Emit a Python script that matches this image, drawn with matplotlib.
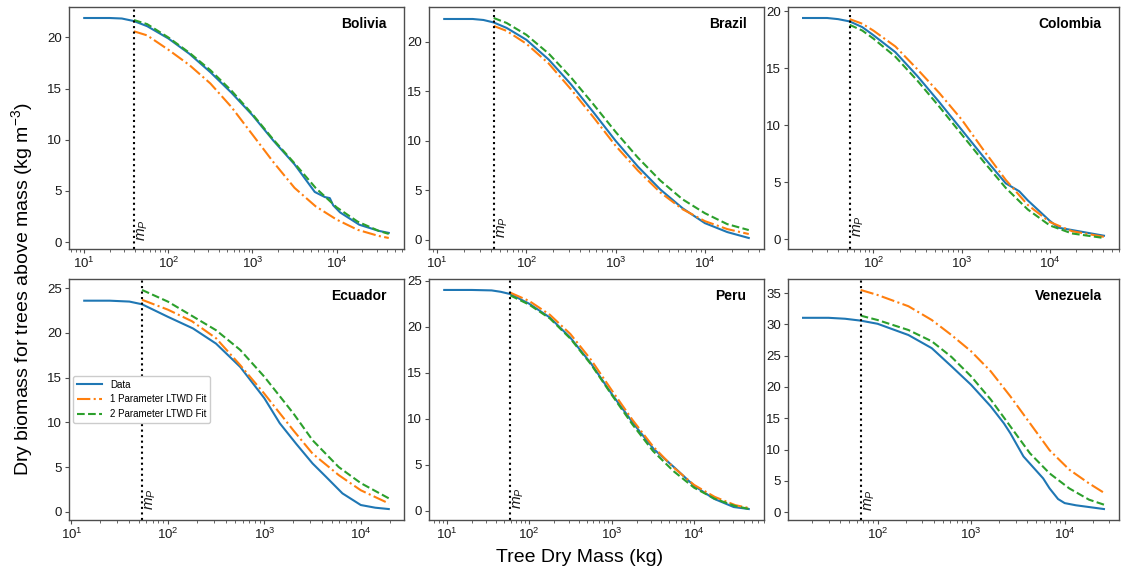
import matplotlib
matplotlib.use("Agg")
import matplotlib.pyplot as plt
from matplotlib.ticker import MultipleLocator

plt.rcParams['font.family'] = ['Liberation Sans', 'DejaVu Sans']
plt.rcParams['mathtext.fontset'] = 'custom'
plt.rcParams['mathtext.rm'] = 'Liberation Sans'
plt.rcParams['mathtext.it'] = 'Liberation Sans:italic'
plt.rcParams['mathtext.bf'] = 'Liberation Sans:bold'

# ---------------- data ----------------
countries = ["Bolivia", "Brazil", "Colombia", "Ecuador", "Peru", "Venezuela"]
m_p = [39, 43, 54, 54, 59, 66]

bolivia_mass = [10, 20, 28, 39, 56, 100, 178, 316, 562, 1000, 1778, 3162, 5500, 7250, 8300, 9100, 11000, 18600, 31600, 41700]
bolivia_data = [21.9, 21.9, 21.85, 21.6, 21.1, 19.9, 18.4, 16.6, 14.6, 12.4, 9.9, 7.6, 4.9, 4.4, 4.3, 3.6, 2.9, 1.7, 1.1, 0.9]
bolivia_fit_mass = [39, 56, 100, 178, 316, 562, 1000, 1778, 3162, 5623, 10000, 17783, 31623, 41700]
bolivia_fit1 = [20.6, 20.2, 18.8, 17.3, 15.5, 13.2, 10.5, 7.8, 5.3, 3.5, 2.2, 1.2, 0.6, 0.4]
bolivia_fit2 = [21.7, 21.3, 20.0, 18.5, 16.8, 14.8, 12.5, 10.0, 7.7, 5.3, 3.4, 2.0, 1.1, 0.8]

brazil_mass = [12, 25, 33, 43, 60, 100, 178, 316, 562, 1000, 1778, 3162, 5623, 10000, 17783, 31000]
brazil_data = [22.3, 22.3, 22.2, 21.95, 21.4, 20.2, 18.2, 15.7, 12.9, 10.0, 7.4, 5.1, 3.2, 1.7, 0.8, 0.2]
brazil_fit_mass = [43, 60, 100, 178, 316, 562, 1000, 1778, 3162, 5623, 10000, 17783, 31000]
brazil_fit1 = [21.6, 21.1, 19.8, 17.8, 15.2, 12.4, 9.5, 7.0, 4.8, 3.1, 1.9, 1.1, 0.6]
brazil_fit2 = [22.4, 21.9, 20.7, 18.8, 16.4, 13.7, 10.9, 8.3, 6.0, 4.1, 2.7, 1.6, 1.0]

colombia_mass = [16, 30, 40, 54, 75, 100, 178, 316, 562, 1000, 1778, 3162, 4500, 5623, 10000, 12600, 17783, 41000]
colombia_data = [19.4, 19.4, 19.3, 19.1, 18.6, 17.9, 16.4, 14.3, 12.0, 9.6, 7.2, 4.9, 4.2, 3.4, 1.6, 1.0, 0.8, 0.3]
colombia_fit_mass = [54, 75, 100, 178, 316, 562, 1000, 1778, 3162, 5623, 10000, 17783, 41000]
colombia_fit1 = [19.3, 18.9, 18.3, 16.9, 14.9, 12.8, 10.5, 7.8, 5.2, 3.0, 1.5, 0.7, 0.2]
colombia_fit2 = [18.8, 18.3, 17.6, 16.0, 13.9, 11.6, 9.2, 6.8, 4.5, 2.6, 1.2, 0.5, 0.1]

ecuador_mass = [13.6, 25, 40, 54, 100, 182, 316, 562, 1000, 1445, 2138, 3162, 4365, 6457, 10000, 14125, 19500]
ecuador_data = [23.6, 23.6, 23.5, 23.2, 21.8, 20.5, 18.8, 16.2, 12.7, 9.9, 7.6, 5.4, 3.9, 2.05, 0.75, 0.45, 0.3]
ecuador_fit_mass = [54, 100, 178, 316, 562, 1000, 2000, 3162, 5900, 10000, 19500]
ecuador_fit1 = [23.7, 22.6, 21.3, 19.4, 16.4, 13.2, 9.1, 6.5, 4.1, 2.4, 0.93]
ecuador_fit2 = [24.8, 23.5, 21.9, 20.3, 18.1, 15.1, 11.0, 8.0, 5.0, 3.2, 1.5]

peru_mass = [9.3, 20, 35, 45, 59, 100, 178, 316, 562, 1000, 1862, 3236, 5754, 10000, 17378, 30200, 46000]
peru_data = [24.0, 24.0, 23.95, 23.8, 23.55, 22.5, 21.0, 18.8, 16.0, 12.7, 9.4, 6.7, 4.7, 2.7, 1.3, 0.4, 0.18]
peru_fit_mass = [59, 100, 178, 316, 562, 1000, 1778, 3162, 5623, 10000, 17783, 31623, 46000]
peru_fit1 = [23.7, 22.8, 21.3, 19.2, 16.4, 13.1, 9.9, 7.0, 4.7, 2.8, 1.5, 0.6, 0.3]
peru_fit2 = [23.4, 22.4, 20.9, 18.7, 15.9, 12.6, 9.4, 6.5, 4.3, 2.5, 1.3, 0.5, 0.2]

venezuela_mass = [16, 30, 45, 66, 100, 214, 380, 617, 1000, 1622, 2240, 2630, 3630, 5890, 6900, 8500, 10000, 13200, 26300]
venezuela_data = [31.05, 31.05, 30.9, 30.6, 30.1, 28.3, 26.2, 23.3, 20.35, 16.9, 14.2, 12.6, 8.9, 5.4, 3.8, 2.1, 1.45, 1.1, 0.5]
venezuela_fit_mass = [66, 100, 214, 380, 617, 1000, 1622, 2630, 4260, 6900, 11200, 18200, 26300]
venezuela_fit1 = [35.5, 34.7, 32.9, 30.7, 28.3, 25.7, 22.5, 18.5, 14.2, 9.9, 6.8, 4.6, 3.1]
venezuela_fit2 = [31.4, 30.7, 29.1, 27.3, 24.8, 21.7, 18.0, 13.7, 9.4, 6.2, 3.8, 2.0, 1.2]

panels = [
    (bolivia_mass, bolivia_data, bolivia_fit_mass, bolivia_fit1, bolivia_fit2),
    (brazil_mass, brazil_data, brazil_fit_mass, brazil_fit1, brazil_fit2),
    (colombia_mass, colombia_data, colombia_fit_mass, colombia_fit1, colombia_fit2),
    (ecuador_mass, ecuador_data, ecuador_fit_mass, ecuador_fit1, ecuador_fit2),
    (peru_mass, peru_data, peru_fit_mass, peru_fit1, peru_fit2),
    (venezuela_mass, venezuela_data, venezuela_fit_mass, venezuela_fit1, venezuela_fit2),
]

# ---------------- figure ----------------
W, H = 1121, 578
fig = plt.figure(figsize=(W / 100, H / 100), dpi=100)

col_px = [(69, 404), (429, 764), (788, 1119)]
row_px = [(7, 249), (279, 520)]

edge = '0.3'
for i, (name, mp, (mass, data, fmass, f1, f2)) in enumerate(zip(countries, m_p, panels)):
    r, c = divmod(i, 3)
    x0, x1 = col_px[c]
    y0, y1 = row_px[r]
    ax = fig.add_axes([x0 / W, 1 - y1 / H, (x1 - x0) / W, (y1 - y0) / H])
    ax.plot(mass, data, color='#1f77b4', lw=1.5, label='Data')
    ax.plot(fmass, f1, color='#ff7f0e', lw=1.5, ls='-.', label='1 Parameter LTWD Fit')
    ax.plot(fmass, f2, color='#2ca02c', lw=1.5, ls='--', label='2 Parameter LTWD Fit')
    ax.set_xscale('log')
    ax.axvline(mp, color='black', ls=':', lw=1.5)
    ax.text(mp * 1.04, 0.15, r'$m_P$', rotation=90, ha='left', va='bottom',
            fontsize=11, color='0.1')
    ax.yaxis.set_major_locator(MultipleLocator(5))
    ax.text(0.948, 0.93, name, transform=ax.transAxes, ha='right', va='center',
            fontsize=10, fontweight='bold')
    ax.tick_params(which='major', labelsize=9.5, colors=edge, labelcolor='0.1',
                   length=3, pad=2)
    ax.tick_params(which='minor', colors=edge, length=1.8)
    for s in ax.spines.values():
        s.set_edgecolor(edge)
        s.set_linewidth(1.0)
    if name == 'Ecuador':
        ax.legend(loc='center left', fontsize=7, handlelength=2.6, framealpha=1.0,
                  edgecolor='0.8', borderaxespad=0.4)

fig.text(580 / W, 1 - 558 / H, 'Tree Dry Mass (kg)', ha='center', va='center', fontsize=14)
fig.text(22 / W, 0.5, r'Dry biomass for trees above mass (kg m$^{-3}$)', rotation=90,
         ha='center', va='center', fontsize=14)

fig.savefig('out.png', dpi=100)
